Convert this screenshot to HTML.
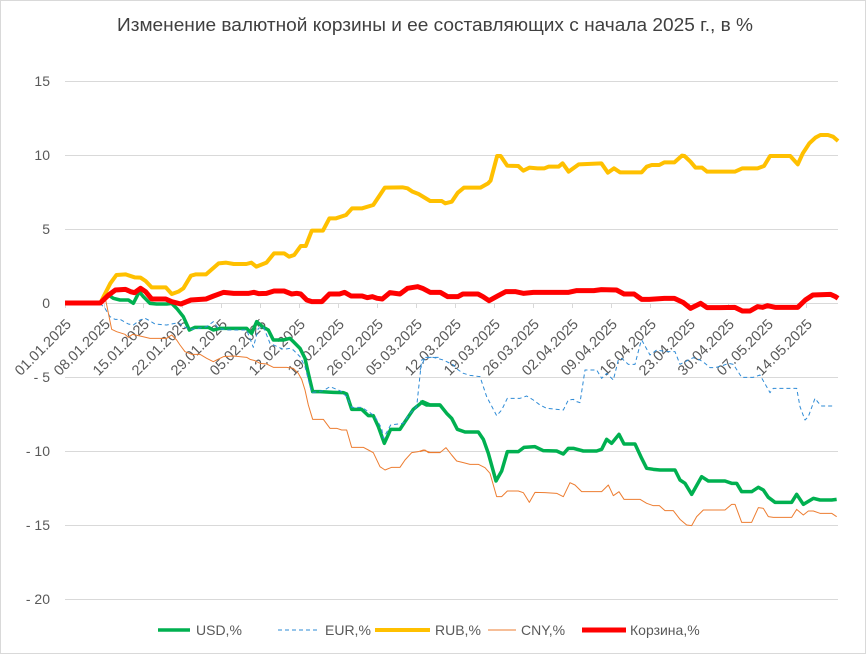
<!DOCTYPE html>
<html><head><meta charset="utf-8"><style>
html,body{margin:0;padding:0;background:#fff;}
svg{display:block;font-family:"Liberation Sans",sans-serif;}
</style></head><body>
<svg width="866" height="654" viewBox="0 0 866 654" xmlns="http://www.w3.org/2000/svg">
<rect x="0.5" y="0.5" width="865" height="653" fill="#fff" stroke="#d9d9d9"/>
<text x="435" y="31" text-anchor="middle" font-size="18" fill="#404040" textLength="636" lengthAdjust="spacingAndGlyphs">Изменение валютной корзины и ее составляющих с начала 2025 г., в %</text>
<g stroke="#d9d9d9" stroke-width="1">
<line x1="65" y1="81.5" x2="838" y2="81.5"/><line x1="65" y1="155.5" x2="838" y2="155.5"/>
<line x1="65" y1="229.5" x2="838" y2="229.5"/><line x1="65" y1="303.5" x2="838" y2="303.5"/>
<line x1="65" y1="377.5" x2="838" y2="377.5"/><line x1="65" y1="451.5" x2="838" y2="451.5"/>
<line x1="65" y1="525.5" x2="838" y2="525.5"/><line x1="65" y1="599.5" x2="838" y2="599.5"/>
</g>
<g stroke="#d9d9d9"><path d="M65.5 303v5M104.5 303v5M143.5 303v5M182.5 303v5M221.5 303v5M260.5 303v5M299.5 303v5M338.5 303v5M377.5 303v5M416.5 303v5M455.5 303v5M494.5 303v5M533.5 303v5M572.5 303v5M611.5 303v5M650.5 303v5M689.5 303v5M728.5 303v5M767.5 303v5M806.5 303v5"/></g>
<g font-size="14" fill="#595959" text-anchor="end">
<text x="50" y="86">15</text><text x="50" y="160">10</text><text x="50" y="234">5</text><text x="50" y="308">0</text>
<text x="50" y="382">- 5</text><text x="50" y="456">- 10</text><text x="50" y="530">- 15</text><text x="50" y="604">- 20</text>
</g>
<g font-size="14.5" fill="#595959" text-anchor="end">
<text transform="translate(72,325) rotate(-45)">01.01.2025</text>
<text transform="translate(111,325) rotate(-45)">08.01.2025</text>
<text transform="translate(150,325) rotate(-45)">15.01.2025</text>
<text transform="translate(189,325) rotate(-45)">22.01.2025</text>
<text transform="translate(228,325) rotate(-45)">29.01.2025</text>
<text transform="translate(267,325) rotate(-45)">05.02.2025</text>
<text transform="translate(306,325) rotate(-45)">12.02.2025</text>
<text transform="translate(345,325) rotate(-45)">19.02.2025</text>
<text transform="translate(384,325) rotate(-45)">26.02.2025</text>
<text transform="translate(423,325) rotate(-45)">05.03.2025</text>
<text transform="translate(462,325) rotate(-45)">12.03.2025</text>
<text transform="translate(501,325) rotate(-45)">19.03.2025</text>
<text transform="translate(540,325) rotate(-45)">26.03.2025</text>
<text transform="translate(579,325) rotate(-45)">02.04.2025</text>
<text transform="translate(618,325) rotate(-45)">09.04.2025</text>
<text transform="translate(657,325) rotate(-45)">16.04.2025</text>
<text transform="translate(696,325) rotate(-45)">23.04.2025</text>
<text transform="translate(735,325) rotate(-45)">30.04.2025</text>
<text transform="translate(774,325) rotate(-45)">07.05.2025</text>
<text transform="translate(813,325) rotate(-45)">14.05.2025</text>
</g>
<g fill="none" stroke-linejoin="round">
<g transform="translate(0,270) scale(0.33333)"><polyline vector-effect="non-scaling-stroke" stroke="#00b050" stroke-width="3.5" points="195,100 300,100 318,70 340,85 360,90 385,90 400,100 418,65 430,80 450,100 470,102 500,102 515,100 530,115 550,140 568,180 585,172 625,172 640,180 660,175 680,175 740,175 755,190 770,155 790,172 805,180 820,210 850,210 870,205 880,215 900,235 915,265 925,310 938,365 960,365 1000,367 1030,368 1040,372 1055,418 1085,418 1105,437 1120,437 1135,470 1153,520 1172,478 1200,478 1215,455 1240,418 1268,395 1290,405 1320,405"/></g>
<g transform="translate(420,270) scale(0.33333)"><polyline vector-effect="non-scaling-stroke" stroke="#00b050" stroke-width="3.5" points="0,395 20,405 60,405 80,430 95,445 112,478 135,486 175,486 190,508 205,550 228,633 245,603 262,545 295,545 312,532 345,530 370,542 410,543 430,552 445,535 460,535 490,543 530,543 545,538 560,508 575,520 597,493 612,522 645,522 665,565 680,595 700,598 720,600 765,600 780,630 795,640 815,673 845,620 865,633 915,633 935,640 950,640 965,665 995,665 1015,652 1030,660 1045,682 1065,697 1115,697 1130,673 1150,703 1180,685 1200,690 1235,690 1250,688"/></g>
<g transform="translate(0,270) scale(0.33333)"><polyline vector-effect="non-scaling-stroke" stroke="#2e8bd6" stroke-width="1" stroke-dasharray="4,3" points="300,100 315,115 330,140 345,148 360,148 385,162 400,165 420,150 435,145 445,150 465,162 500,165 515,162 535,158 555,172 575,178 595,175 620,170 640,155 655,175 680,180 740,180 760,232 775,175 790,170 810,220 850,238 870,235 880,240 900,260 915,290 935,368 970,362 990,350 1020,362 1040,380 1055,412 1085,412 1110,428 1125,440 1145,475 1150,505 1172,465 1210,460 1230,430 1250,410 1265,270 1290,262 1320,262"/></g>
<g transform="translate(420,270) scale(0.33333)"><polyline vector-effect="non-scaling-stroke" stroke="#2e8bd6" stroke-width="1" stroke-dasharray="4,3" points="0,300 15,262 40,262 70,270 100,285 115,300 130,310 150,316 180,320 200,380 230,437 245,420 262,385 300,385 320,378 340,390 360,405 380,415 430,420 445,390 460,388 470,395 480,398 495,300 530,300 545,325 560,310 580,330 595,270 605,265 625,283 645,283 660,225 665,210 675,228 690,255 710,240 740,245 765,245 780,283 805,270 820,263 840,270 855,280 870,293 885,293 905,288 925,280 940,283 965,322 1000,322 1020,315 1050,368 1060,355 1130,355 1140,410 1155,450 1165,440 1185,385 1195,398 1205,408 1240,408"/></g>
<g transform="translate(60,120) scale(0.5036,0.33333)"><polyline vector-effect="non-scaling-stroke" stroke="#ffc000" stroke-width="4" points="10,549 80,549 100,490 112,465 130,463 148,472 160,473 170,483 182,502 210,502 222,522 235,515 245,505 260,467 270,463 290,463 315,430 330,428 345,432 370,432 380,428 390,440 410,428 425,400 445,400 455,410 465,405 478,378 488,378 500,332 522,332 535,295 548,295 568,285 580,265 600,265 622,255 645,203 680,202 690,205 700,215 712,222 735,243 758,243 765,250 778,245 790,218 802,203 835,203 850,190 855,182 868,108 875,108 888,137 910,138 920,152 932,143 948,145 962,145 970,140 990,140 998,130 1010,155 1030,133 1075,130 1088,158 1100,145 1112,157 1155,157 1165,140 1175,135 1190,135 1200,127 1220,127 1235,107 1240,108 1252,125 1262,143 1275,143 1285,155 1340,155 1355,145 1385,145 1398,138 1410,108 1450,108 1465,133 1475,100 1488,70 1500,53 1510,45 1525,45 1535,50 1545,63"/></g>
<g transform="translate(0,270) scale(0.33333)"><polyline vector-effect="non-scaling-stroke" stroke="#ed7d31" stroke-width="1" points="300,100 315,80 335,178 350,185 375,193 385,202 398,193 420,198 450,205 500,205 515,195 530,210 540,225 555,245 575,253 600,253 620,265 640,275 650,270 670,260 700,258 740,262 750,268 765,272 780,280 800,282 820,292 860,292 880,295 895,310 905,328 915,360 925,405 938,448 970,448 990,475 1010,475 1025,480 1040,480 1055,532 1090,532 1105,540 1120,548 1140,590 1155,600 1175,592 1200,592 1215,570 1235,548 1255,545 1270,540 1290,547 1320,547"/></g>
<g transform="translate(420,270) scale(0.33333)"><polyline vector-effect="non-scaling-stroke" stroke="#ed7d31" stroke-width="1" points="0,545 15,540 25,548 60,548 78,533 95,555 110,573 130,578 150,583 175,583 195,593 210,610 230,680 245,680 262,663 295,663 310,668 328,697 345,667 375,668 410,670 430,680 450,638 465,645 485,665 545,665 565,645 580,677 597,665 612,688 660,688 680,700 700,707 718,707 735,722 760,722 780,748 800,765 815,767 830,740 850,720 915,720 935,703 945,703 965,757 995,757 1015,713 1030,715 1045,740 1060,742 1115,742 1130,718 1150,735 1165,723 1180,723 1200,730 1235,730 1250,740"/></g>
<g transform="translate(60,120) scale(0.5036,0.33333)"><polyline vector-effect="non-scaling-stroke" stroke="#ff0000" stroke-width="5" points="10,549 80,549 95,527 110,510 130,508 140,515 148,518 160,505 170,515 182,537 210,537 222,545 240,552 260,540 290,537 305,528 325,517 345,520 375,520 385,517 395,521 410,520 425,513 445,513 460,522 470,520 478,522 490,540 500,545 520,545 535,522 555,522 565,517 578,528 600,528 610,533 620,530 630,535 640,537 655,518 675,522 690,505 710,500 720,505 735,517 755,517 770,530 790,530 800,522 830,522 840,530 852,542 870,527 885,515 905,515 920,520 940,517 970,517 1010,517 1025,512 1060,512 1075,509 1105,510 1120,522 1140,522 1155,538 1170,538 1200,535 1220,535 1238,548 1252,565 1272,550 1285,563 1310,563 1340,562 1355,573 1370,573 1385,560 1395,562 1405,557 1420,562 1465,562 1480,540 1495,525 1530,523 1540,530 1545,535"/></g>
</g>
<g font-size="14" fill="#595959">
<line x1="158" y1="630" x2="190" y2="630" stroke="#00b050" stroke-width="3.5"/>
<text x="196" y="635">USD,%</text>
<line x1="278" y1="630" x2="320" y2="630" stroke="#2e8bd6" stroke-width="1" stroke-dasharray="4,3"/>
<text x="325" y="635">EUR,%</text>
<line x1="375" y1="630" x2="430" y2="630" stroke="#ffc000" stroke-width="4"/>
<text x="435" y="635">RUB,%</text>
<line x1="488" y1="630" x2="516" y2="630" stroke="#ed7d31" stroke-width="1"/>
<text x="521" y="635">CNY,%</text>
<line x1="582" y1="630" x2="626" y2="630" stroke="#ff0000" stroke-width="5"/>
<text x="630" y="635">Корзина,%</text>
</g>
</svg>
</body></html>
